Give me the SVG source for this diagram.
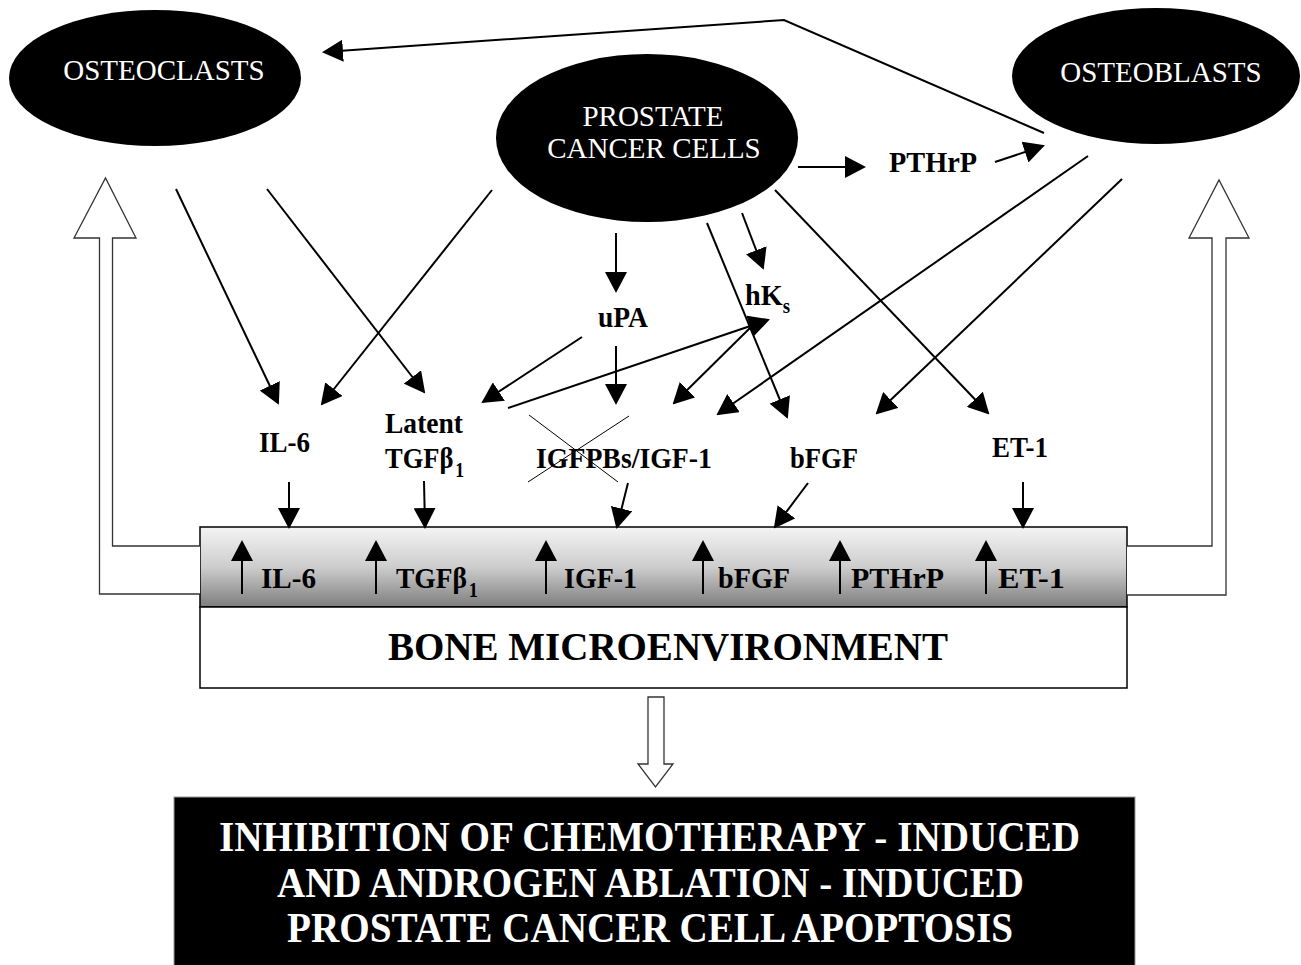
<svg xmlns="http://www.w3.org/2000/svg" width="1301" height="965" viewBox="0 0 1301 965">
<style>
.ell{fill:#000}
.et{font-family:"Liberation Serif","Times New Roman",serif;font-size:29px;fill:#fff;text-anchor:middle}
.lb{font-family:"Liberation Serif","Times New Roman",serif;font-size:30px;font-weight:bold;fill:#000}
.sub{font-size:20px}
.big{font-family:"Liberation Serif","Times New Roman",serif;font-size:39px;font-weight:bold;fill:#000}
.wt{font-family:"Liberation Serif","Times New Roman",serif;font-size:43px;font-weight:bold;fill:#fff}
.c{stroke:#000;stroke-width:2;fill:none;marker-end:url(#ah)}
.x{stroke:#000;stroke-width:1;fill:none}
.blk{fill:#fff;stroke:#333;stroke-width:1.3}
</style>
<defs>
<marker id="ah" markerUnits="userSpaceOnUse" markerWidth="21" markerHeight="22" refX="19" refY="11" orient="auto" viewBox="0 0 21 22">
<path d="M0,0 L21,11 L0,22 z" fill="#000"/>
</marker>
<linearGradient id="g" x1="0" y1="0" x2="0" y2="1">
<stop offset="0" stop-color="#f4f4f4"/>
<stop offset="0.5" stop-color="#cdcdcd"/>
<stop offset="1" stop-color="#7d7d7d"/>
</linearGradient>
</defs>

<g id="osteoclasts">
<ellipse class="ell" cx="155" cy="78" rx="146" ry="68"/>
<text class="et" x="164" y="80">OSTEOCLASTS</text>
</g>
<g id="prostate">
<ellipse class="ell" cx="647" cy="138" rx="151" ry="84"/>
<text class="et" x="653" y="126">PROSTATE</text>
<text class="et" x="654" y="158">CANCER CELLS</text>
</g>
<g id="osteoblasts">
<ellipse class="ell" cx="1156" cy="76" rx="144" ry="68"/>
<text class="et" x="1161" y="82">OSTEOBLASTS</text>
</g>

<g id="pthrp"><text class="lb" x="889" y="172" textLength="88" lengthAdjust="spacingAndGlyphs">PTHrP</text></g>
<g id="upa"><text class="lb" x="598" y="327" textLength="50" lengthAdjust="spacingAndGlyphs">uPA</text></g>
<g id="hks"><text class="lb" x="745" y="305" textLength="45" lengthAdjust="spacingAndGlyphs">hK<tspan class="sub" dy="8">s</tspan></text></g>
<g id="il6"><text class="lb" x="259" y="452" textLength="51" lengthAdjust="spacingAndGlyphs">IL-6</text></g>
<g id="latent">
<text class="lb" x="385" y="433" textLength="78" lengthAdjust="spacingAndGlyphs">Latent</text>
<text class="lb" x="385" y="468" textLength="79" lengthAdjust="spacingAndGlyphs">TGFβ<tspan class="sub" dx="2" dy="9">1</tspan></text>
</g>
<g id="igfpbs">
<text class="lb" x="536" y="468" textLength="176" lengthAdjust="spacingAndGlyphs">IGFPBs/IGF-1</text>
<line class="x" x1="529" y1="415" x2="618" y2="482"/>
<line class="x" x1="528" y1="482" x2="629" y2="416"/>
</g>
<g id="bfgf"><text class="lb" x="790" y="468" textLength="68" lengthAdjust="spacingAndGlyphs">bFGF</text></g>
<g id="et1"><text class="lb" x="992" y="457" textLength="56" lengthAdjust="spacingAndGlyphs">ET-1</text></g>

<g id="bone">
<rect x="200" y="527" width="927" height="80" fill="url(#g)" stroke="#000" stroke-width="1.5"/>
<rect x="200" y="607" width="927" height="81" fill="#fff" stroke="#000" stroke-width="1.5"/>
<text class="lb" x="261" y="588" textLength="55" lengthAdjust="spacingAndGlyphs">IL-6</text>
<text class="lb" x="396" y="588" textLength="82" lengthAdjust="spacingAndGlyphs">TGFβ<tspan class="sub" dx="2" dy="9">1</tspan></text>
<text class="lb" x="564" y="588" textLength="73" lengthAdjust="spacingAndGlyphs">IGF-1</text>
<text class="lb" x="718" y="588" textLength="72" lengthAdjust="spacingAndGlyphs">bFGF</text>
<text class="lb" x="851" y="588" textLength="93" lengthAdjust="spacingAndGlyphs">PTHrP</text>
<text class="lb" x="998" y="588" textLength="67" lengthAdjust="spacingAndGlyphs">ET-1</text>
<text class="big" x="388" y="660" textLength="560" lengthAdjust="spacingAndGlyphs">BONE MICROENVIRONMENT</text>
</g>

<g id="outcome">
<rect x="174" y="797" width="961" height="170" fill="#000" stroke="#999" stroke-width="1"/>
<text class="wt" x="219" y="851" textLength="861" lengthAdjust="spacingAndGlyphs">INHIBITION OF CHEMOTHERAPY - INDUCED</text>
<text class="wt" x="277" y="897" textLength="747" lengthAdjust="spacingAndGlyphs">AND ANDROGEN ABLATION - INDUCED</text>
<text class="wt" x="287" y="942" textLength="726" lengthAdjust="spacingAndGlyphs">PROSTATE CANCER CELL APOPTOSIS</text>
</g>

<g id="connectors">
<path class="c" d="M1044,133 L784,20 L324,52"/>
<path class="c" d="M176,189 L278,403"/>
<path class="c" d="M267,189 L424,392"/>
<path class="c" d="M492,190 L322,404"/>
<path class="c" d="M616,233 L616,291"/>
<path class="c" d="M616,346 L616,403"/>
<path class="c" d="M582,337 L483,402"/>
<path class="c" d="M508,408 L768,320"/>
<path class="c" d="M751,327 L674,403"/>
<path class="c" d="M742,213 L763,268"/>
<path class="c" d="M707,223 L787,417"/>
<path class="c" d="M775,190 L988,413"/>
<path class="c" d="M798,167 L864,167"/>
<path class="c" d="M995,162 L1043,146"/>
<path class="c" d="M1088,156 L718,414"/>
<path class="c" d="M1122,179 L877,413"/>
<path class="c" d="M289,482 L289,527"/>
<path class="c" d="M424,481 L425,527"/>
<path class="c" d="M628,483 L617,527"/>
<path class="c" d="M808,483 L775,527"/>
<path class="c" d="M1023,482 L1023,527"/>
<path class="c" d="M242,594 L242,542"/>
<path class="c" d="M376,594 L376,542"/>
<path class="c" d="M546,594 L546,542"/>
<path class="c" d="M703,594 L703,542"/>
<path class="c" d="M840,594 L840,542"/>
<path class="c" d="M986,594 L986,542"/>
<path class="blk" d="M200,546 L112.5,546 L112.5,238 L136,238 L105.5,178 L74,238 L99.5,238 L99.5,594 L200,594"/>
<path class="blk" d="M1127,546 L1212,546 L1212,238 L1189,238 L1219,180 L1249,238 L1226,238 L1226,595 L1127,595"/>
<path class="blk" d="M648,697 L664,697 L664,764 L673,764 L655.5,787 L638,764 L648,764 Z"/>
</g>
</svg>
